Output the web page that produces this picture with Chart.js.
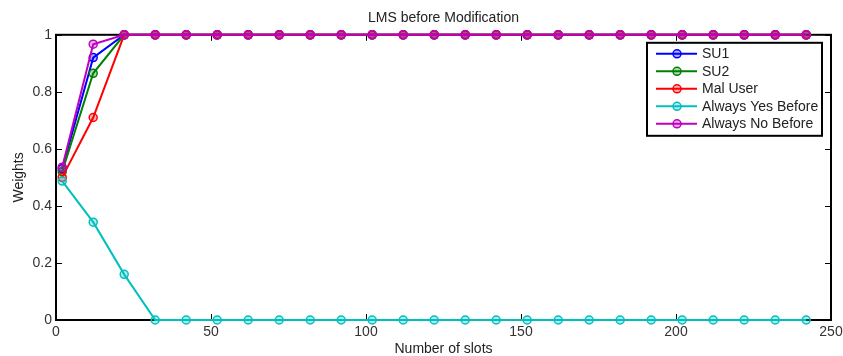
<!DOCTYPE html>
<html><head><meta charset="utf-8">
<script src="https://cdn.jsdelivr.net/npm/chart.js@4/dist/chart.umd.min.js"></script>
<style>html,body{margin:0;padding:0;background:#fff}#wrap{width:843px;height:356px}</style>
</head><body><div id="wrap"><canvas id="c" width="843" height="356"></canvas></div>
<script>
const slots = [2,12,22,32,42,52,62,72,82,92,102,112,122,132,142,152,162,172,182,192,202,212,222,232,242];
const su1 = [0.53,0.92,1,1,1,1,1,1,1,1,1,1,1,1,1,1,1,1,1,1,1,1,1,1,1];
const su2 = [0.52,0.865,1,1,1,1,1,1,1,1,1,1,1,1,1,1,1,1,1,1,1,1,1,1,1];
const malUser = [0.50,0.71,1,1,1,1,1,1,1,1,1,1,1,1,1,1,1,1,1,1,1,1,1,1,1];
const alwaysYes = [0.487,0.343,0.16,0,0,0,0,0,0,0,0,0,0,0,0,0,0,0,0,0,0,0,0,0,0];
const alwaysNo = [0.536,0.967,1,1,1,1,1,1,1,1,1,1,1,1,1,1,1,1,1,1,1,1,1,1,1];
const seriesNames = ['SU1','SU2','Mal User','Always Yes Before','Always No Before'];
const seriesColors = ['#0000ff','#008000','#ff0000','#00bfbf','#bf00bf'];
const seriesFills = ['rgba(0,0,255,0.3)','rgba(0,128,0,0.3)','rgba(255,0,0,0.3)','rgba(0,191,191,0.3)','rgba(191,0,191,0.3)'];
const seriesValues = [su1,su2,malUser,alwaysYes,alwaysNo];
const FONT = '"Liberation Sans", Arial, Helvetica, sans-serif';

const datasets = seriesValues.map((vals,i)=>({
  label: seriesNames[i],
  data: slots.map((x,j)=>({x:x,y:vals[j]})),
  borderColor: seriesColors[i],
  backgroundColor: seriesFills[i],
  pointBackgroundColor: seriesFills[i],
  pointBorderColor: seriesColors[i],
  pointRadius: 4,
  pointBorderWidth: 1.5,
  borderWidth: 2,
  tension: 0,
  clip: false,
  order: 4 - i
}));

const framePlugin = {
  id: 'frame',
  beforeDatasetsDraw(chart){
    const {ctx, chartArea:a, scales:{x,y}} = chart;
    ctx.save();
    ctx.strokeStyle = '#000';
    ctx.lineWidth = 1;
    const L = 6;
    ctx.beginPath();
    x.ticks.forEach(t=>{
      const px = Math.round(x.getPixelForValue(t.value))+0.5;
      ctx.moveTo(px,a.bottom); ctx.lineTo(px,a.bottom-L);
      ctx.moveTo(px,a.top); ctx.lineTo(px,a.top+L);
    });
    y.ticks.forEach(t=>{
      const py = Math.round(y.getPixelForValue(t.value))+0.5;
      ctx.moveTo(a.left,py); ctx.lineTo(a.left+L,py);
      ctx.moveTo(a.right,py); ctx.lineTo(a.right-L,py);
    });
    ctx.stroke();
    ctx.lineWidth = 2;
    ctx.strokeRect(a.left, a.top, a.right-a.left, a.bottom-a.top);
    ctx.restore();
  }
};

const legendPlugin = {
  id: 'boxLegend',
  afterDraw(chart){
    const {ctx, chartArea:a} = chart;
    const w = 175, h = 93;
    const bx = a.right - 9 - w, by = a.top + 8;
    ctx.save();
    ctx.fillStyle = '#fff';
    ctx.fillRect(bx, by, w, h);
    chart.data.datasets.forEach((ds,i)=>{
      const ry = by + 11 + i*17.5;
      ctx.strokeStyle = ds.borderColor;
      ctx.lineWidth = 2;
      ctx.beginPath(); ctx.moveTo(bx+9, ry); ctx.lineTo(bx+50, ry); ctx.stroke();
      ctx.beginPath(); ctx.arc(bx+30, ry, 4, 0, Math.PI*2);
      ctx.fillStyle = ds.pointBackgroundColor; ctx.fill();
      ctx.lineWidth = 1.5; ctx.stroke();
      ctx.fillStyle = '#222';
      ctx.font = '14px ' + FONT;
      ctx.textBaseline = 'middle';
      ctx.textAlign = 'left';
      ctx.fillText(ds.label, bx+55, ry+0.5);
    });
    ctx.strokeStyle = '#000';
    ctx.lineWidth = 2;
    ctx.strokeRect(bx, by, w, h);
    ctx.restore();
  }
};

new Chart(document.getElementById('c'), {
  type: 'line',
  data: { datasets },
  options: {
    responsive: false,
    animation: false,
    layout: { padding: { left: 0, right: 12, top: 0, bottom: 0 } },
    plugins: {
      legend: { display: false },
      tooltip: { enabled: false },
      title: {
        display: true,
        fullSize: false,
        text: 'LMS before Modification',
        color: '#222',
        font: { family: FONT, size: 14, weight: 'normal', lineHeight: 1.2 },
        padding: { top: 10, bottom: 8 }
      }
    },
    scales: {
      x: {
        type: 'linear', min: 0, max: 250,
        ticks: { stepSize: 50, color: '#333', font: { family: FONT, size: 14 }, padding: 4, maxRotation: 0 },
        grid: { display: false, drawTicks: false, tickLength: 0 },
        border: { display: false },
        title: { display: true, text: 'Number of slots', color: '#222', font: { family: FONT, size: 14, lineHeight: 1 }, padding: { top: 0, bottom: 0 } },
        afterFit(s){ s.height = 36; s.paddingLeft = 0; s.paddingRight = 0; }
      },
      y: {
        type: 'linear', min: 0, max: 1,
        ticks: { stepSize: 0.2, color: '#333', font: { family: FONT, size: 14 }, padding: 4,
          callback: v => String(Math.round(v*10)/10) },
        grid: { display: false, drawTicks: false, tickLength: 0 },
        border: { display: false },
        title: { display: true, text: 'Weights', color: '#222', font: { family: FONT, size: 14, lineHeight: 1.2 }, padding: { top: 11, bottom: 0 } },
        afterFit(s){ s.width = 56; s.paddingTop = 0; s.paddingBottom = 0; }
      }
    }
  },
  plugins: [framePlugin, legendPlugin]
});
</script></body></html>
